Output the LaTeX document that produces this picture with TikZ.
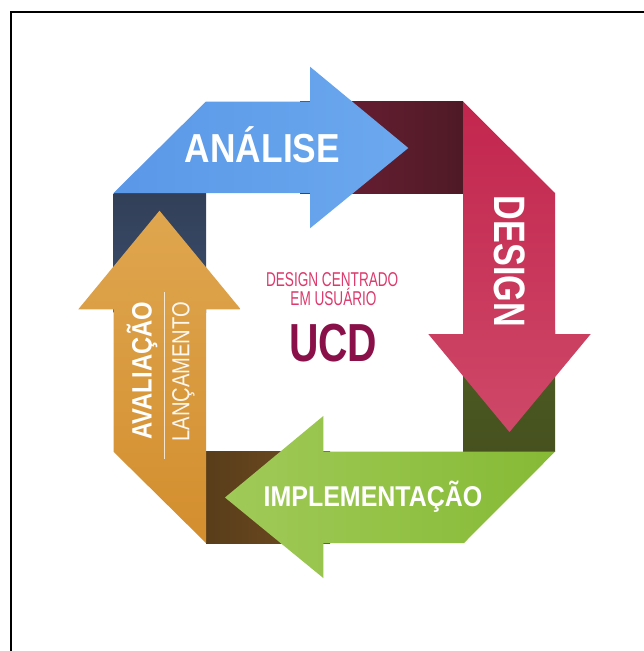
\documentclass[tikz,border=0pt]{standalone}
\usepackage{fontspec}
\usepackage{graphicx}
\setmainfont{Liberation Sans}
\definecolor{blueL}{HTML}{5A98E8}
\definecolor{blueR}{HTML}{6BA8EE}
\definecolor{maroonL}{HTML}{701F37}
\definecolor{maroonR}{HTML}{4E1A25}
\definecolor{crimT}{HTML}{C3264E}
\definecolor{crimB}{HTML}{CE4868}
\definecolor{oliveT}{HTML}{4F5E24}
\definecolor{oliveB}{HTML}{46511F}
\definecolor{greenL}{HTML}{A0CA58}
\definecolor{greenR}{HTML}{86BA35}
\definecolor{brownL}{HTML}{593D1A}
\definecolor{brownR}{HTML}{704D22}
\definecolor{orangeT}{HTML}{DFA64F}
\definecolor{orangeB}{HTML}{D38E2E}
\definecolor{navyT}{HTML}{323F57}
\definecolor{navyB}{HTML}{3A4E6F}
\definecolor{pinkT}{HTML}{DC3A6D}
\definecolor{ucdC}{HTML}{8A1049}
\begin{document}
\begin{tikzpicture}[x=1pt,y=-1pt,
  lbl/.style={text=white, inner sep=0pt, anchor=base, font=\bfseries},
  thin/.style={inner sep=0pt, anchor=base},
  frame/.style={line width=2pt, black}]
\useasboundingbox (0,0) rectangle (644,651);
\fill[white] (0,0) rectangle (644,651);
% frame
\coordinate (fTR) at (644,12.3);
\coordinate (fTL) at (10.5,12.3);
\coordinate (fBL) at (10.5,651);
\draw[frame] (fTR) -- (fTL) -- (fBL);
% connecting blocks (behind)
\shade[left color=maroonL, right color=maroonR] (300,101.5) rectangle (463,193);
\shade[top color=navyT, bottom color=navyB] (113.5,193) rectangle (206,312);
\shade[top color=oliveT, bottom color=oliveB] (463,330) rectangle (555,451.7);
\shade[left color=brownL, right color=brownR] (206,451.7) rectangle (330,543);
% arrows
\shade[left color=blueL, right color=blueR]
  (113.5,193) -- (206,101.5) -- (310,101.5) -- (310,66.7) -- (408.3,148) -- (310,228.3) -- (310,193) -- cycle;
\shade[top color=crimT, bottom color=crimB]
  (463,101.5) -- (555,193) -- (555,334) -- (590.7,334) -- (509.5,432) -- (428.3,334) -- (463,334) -- cycle;
\shade[left color=greenL, right color=greenR]
  (555,451.7) -- (464,543) -- (323.3,543) -- (323.3,578) -- (225,497.5) -- (323.3,416) -- (323.3,451.7) -- cycle;
\shade[top color=orangeT, bottom color=orangeB]
  (206,543) -- (113.5,451.7) -- (113.5,309.3) -- (78.3,309.3) -- (159.5,210.7) -- (240.7,309.3) -- (206,309.3) -- cycle;
% labels
\node[lbl] (analise) at (262.5,162) {\fontsize{40.5}{40.5}\selectfont\scalebox{0.872}[1]{ANÁLISE}};
\node[lbl, rotate=-90] (design) at (494,261.5) {\fontsize{44}{44}\selectfont\scalebox{0.777}[1]{DESIGN}};
\node[lbl] (impl) at (373,506.5) {\fontsize{28.6}{28.6}\selectfont\scalebox{0.873}[1]{IMPLEMENTAÇÃO}};
\node[lbl, rotate=90] (aval) at (151.7,370.8) {\fontsize{28}{28}\selectfont\scalebox{0.85}[1]{AVALIAÇÃO}};
\coordinate (sepT) at (164.3,291.7);
\coordinate (sepB) at (164.3,459);
\draw[line width=0.9pt, white, opacity=0.75] (sepT) -- (sepB);
\node[thin, rotate=90, text=white, opacity=0.92] (lanc) at (189.3,371.7) {\fontsize{24.6}{24.6}\selectfont\scalebox{0.82}[1]{LANÇAMENTO}};
% centre
\node[thin, text=pinkT] (dc1) at (332.2,286.7) {\fontsize{20}{20}\selectfont\scalebox{0.68}[1]{DESIGN CENTRADO}};
\node[thin, text=pinkT] (dc2) at (333.5,305.7) {\fontsize{20}{20}\selectfont\scalebox{0.68}[1]{EM USUÁRIO}};
\node[thin, text=ucdC, font=\bfseries] (ucd) at (333.3,361.7) {\fontsize{53.6}{53.6}\selectfont\scalebox{0.76}[1]{UCD}};
\end{tikzpicture}
\end{document}
